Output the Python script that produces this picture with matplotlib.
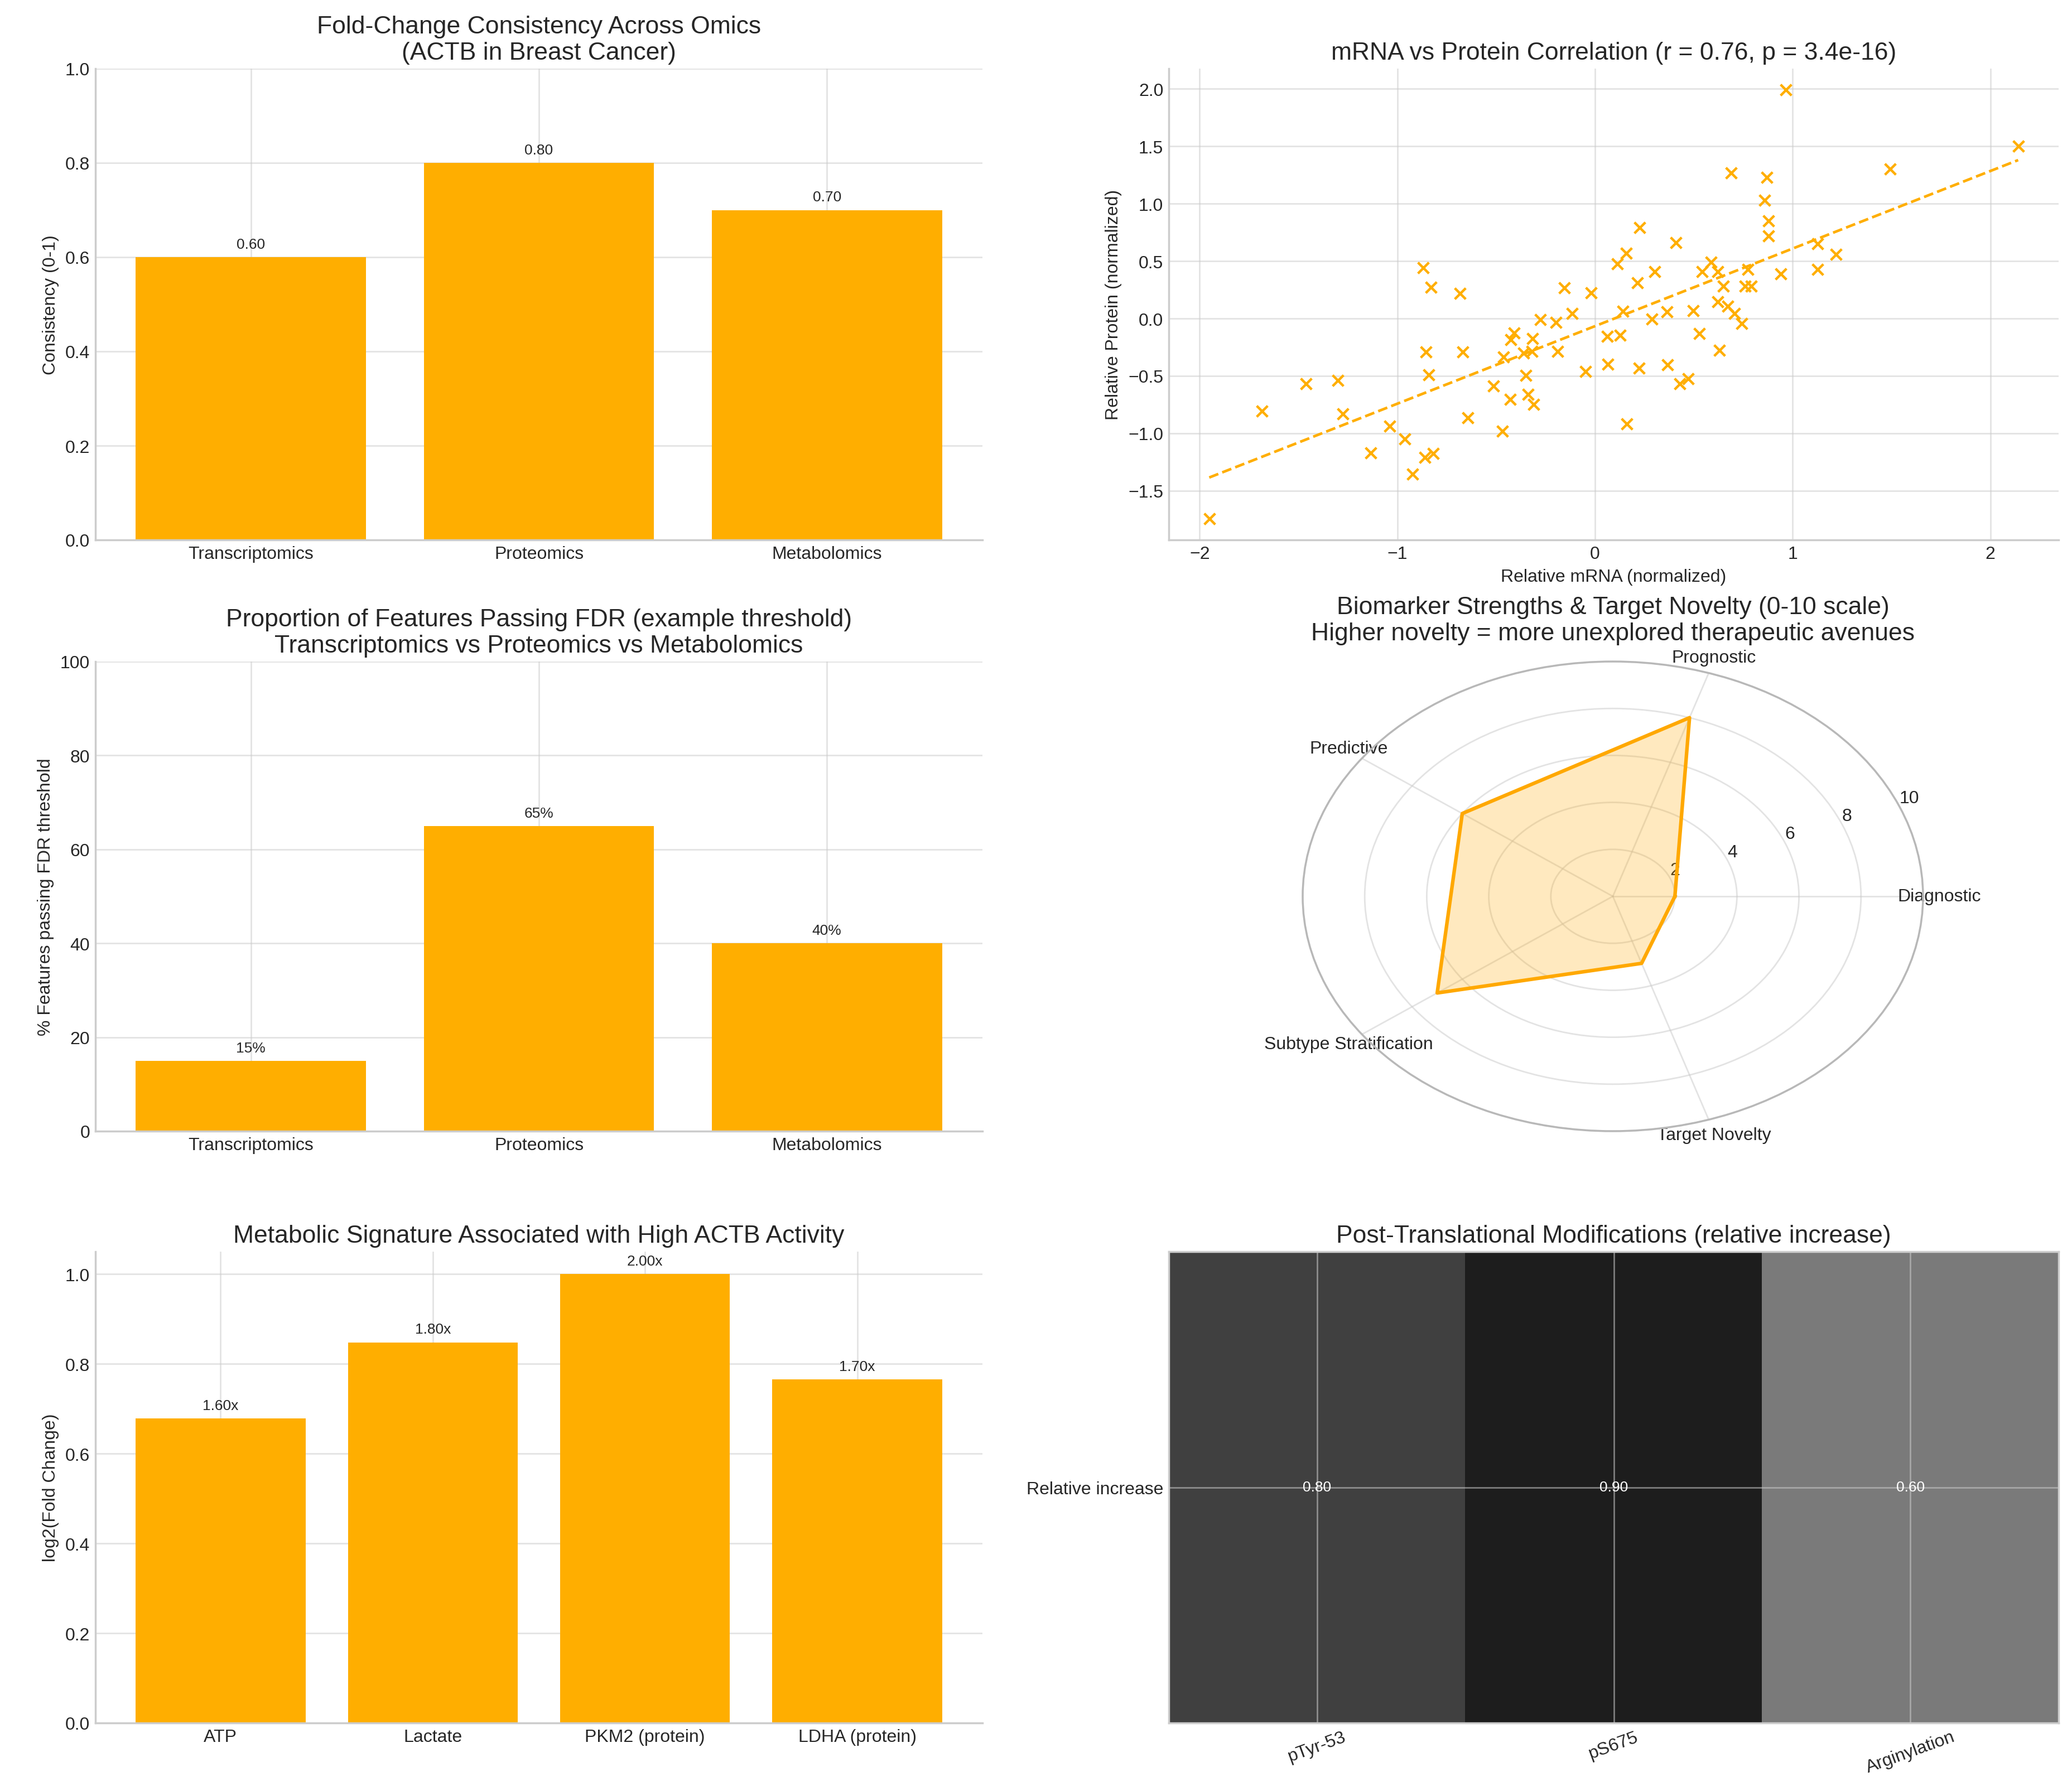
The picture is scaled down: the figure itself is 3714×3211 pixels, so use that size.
import numpy as np
import matplotlib
matplotlib.use("Agg")
import matplotlib.pyplot as plt

##########################################################################
# data
omics = ["Transcriptomics", "Proteomics", "Metabolomics"]
consistency = [0.60, 0.80, 0.70]
fdr_pass = [15, 65, 40]

metabolites = ["ATP", "Lactate", "PKM2 (protein)", "LDHA (protein)"]
fold_change = [1.6, 1.8, 2.0, 1.7]

radar_cats = ["Diagnostic", "Prognostic", "Predictive", "Subtype Stratification", "Target Novelty"]
radar_vals = [2, 8, 6, 7, 3]

ptm_sites = ["pTyr-53", "pS675", "Arginylation"]
ptm_increase = [0.80, 0.90, 0.60]

mrna = [0.966, 2.141, 1.494, 0.688, 0.870, 0.858, 0.877, 0.877, 0.227, 0.410,
        0.157, 0.112, 1.126, 1.219, 1.126, 0.941, 0.586, 0.541, 0.621, 0.301,
        0.774, 0.650, 0.758, 0.790, 0.214, -0.870, -0.829, -0.682, -0.154, -0.019,
        -0.115, -0.278, -0.198, 0.141, 0.365, 0.496, 0.621, 0.672, 0.707, 0.742,
        0.288, -0.410, -0.426, -0.317, 0.061, 0.128, 0.528, -0.854, -0.669, -0.362,
        -0.320, -0.189, -0.464, 0.630, -0.842, -0.349, -0.048, 0.064, 0.224, 0.368,
        0.470, 0.429, -1.462, -1.302, -0.515, -0.429, -0.339, -0.310, -1.686, -1.277,
        -0.643, -0.470, 0.160, -1.040, -0.963, -1.136, -0.861, -0.819, -0.922, -1.952]
protein = [1.99, 1.50, 1.30, 1.27, 1.23, 1.03, 0.85, 0.72, 0.79, 0.66,
           0.57, 0.475, 0.65, 0.56, 0.43, 0.39, 0.49, 0.41, 0.41, 0.41,
           0.43, 0.28, 0.28, 0.28, 0.31, 0.44, 0.27, 0.22, 0.265, 0.226,
           0.046, -0.01, -0.034, 0.064, 0.058, 0.07, 0.144, 0.108, 0.046, -0.043,
           -0.007, -0.125, -0.184, -0.176, -0.155, -0.146, -0.131, -0.291, -0.291, -0.30,
           -0.288, -0.288, -0.335, -0.279, -0.489, -0.495, -0.459, -0.397, -0.433, -0.403,
           -0.524, -0.569, -0.566, -0.539, -0.589, -0.702, -0.663, -0.746, -0.805, -0.832,
           -0.867, -0.983, -0.92, -0.938, -1.051, -1.172, -1.21, -1.175, -1.355, -1.742]
r_value = 0.76
p_value = 3.4e-16

##########################################################################
# look
bar_color = "#FFAE00"
radar_color = "#FFA800"
ink = "#262626"
grid_col = "#cccccc"

plt.rcParams.update({
    "font.family": ["Liberation Sans", "DejaVu Sans"],
    "font.size": 11.5,
    "axes.titlesize": 16,
    "axes.labelsize": 11.5,
    "axes.titlecolor": ink,
    "axes.labelcolor": ink,
    "axes.edgecolor": grid_col,
    "axes.linewidth": 1.25,
    "axes.grid": True,
    "axes.axisbelow": True,
    "grid.color": grid_col,
    "grid.alpha": 0.55,
    "grid.linewidth": 1.0,
    "xtick.color": ink,
    "ytick.color": ink,
    "xtick.labelsize": 11.5,
    "ytick.labelsize": 11.5,
    "xtick.major.size": 0,
    "ytick.major.size": 0,
})

W, H = 3714, 3212
fig = plt.figure(figsize=(W / 200, H / 200), dpi=200)


def rect(x0, x1, y0, y1):
    # pixel box (top-left origin) -> figure fraction
    return [x0 / W, 1 - y1 / H, (x1 - x0) / W, (y1 - y0) / H]


col1 = (171, 1761)
col2 = (2095, 3690)
row1 = (124, 969)
row2 = (1187, 2029)
row3 = (2245, 3090)


def despine(ax):
    ax.spines["top"].set_visible(False)
    ax.spines["right"].set_visible(False)


def label_bars(ax, bars, texts):
    for b, t in zip(bars, texts):
        ax.annotate(t, (b.get_x() + b.get_width() / 2, b.get_height()),
                    xytext=(0, 4), textcoords="offset points",
                    ha="center", va="bottom", fontsize=9.5, color=ink)


##########################################################################
# fold-change consistency
ax1 = fig.add_axes(rect(*col1, *row1))
bars = ax1.bar(omics, consistency, color=bar_color)
label_bars(ax1, bars, [f"{v:.2f}" for v in consistency])
ax1.set_ylim(0, 1)
ax1.set_ylabel("Consistency (0-1)")
ax1.set_title("Fold-Change Consistency Across Omics\n(ACTB in Breast Cancer)")
despine(ax1)

##########################################################################
# mRNA vs protein scatter
ax2 = fig.add_axes(rect(*col2, *row1))
ax2.scatter(mrna, protein, marker="x", s=50, color=bar_color, linewidths=1.6)
slope, icept = np.polyfit(mrna, protein, 1)
xs = np.array([min(mrna), max(mrna)])
ax2.plot(xs, slope * xs + icept, "--", color=bar_color, lw=1.7)
ax2.set_xlabel("Relative mRNA (normalized)")
ax2.set_ylabel("Relative Protein (normalized)")
ax2.set_title(f"mRNA vs Protein Correlation (r = {r_value:.2f}, p = {p_value:.1e})")
despine(ax2)

##########################################################################
# FDR pass proportion
ax3 = fig.add_axes(rect(*col1, *row2))
bars = ax3.bar(omics, fdr_pass, color=bar_color)
label_bars(ax3, bars, [f"{v}%" for v in fdr_pass])
ax3.set_ylim(0, 100)
ax3.set_ylabel("% Features passing FDR threshold")
ax3.set_title("Proportion of Features Passing FDR (example threshold)\n"
              "Transcriptomics vs Proteomics vs Metabolomics")
despine(ax3)

##########################################################################
# radar
ax4 = fig.add_axes(rect(2335, 3447, *row2), projection="polar")
ax4.set_aspect("auto")
angles = np.linspace(0, 2 * np.pi, len(radar_cats), endpoint=False)
ang_c = np.append(angles, angles[0])
val_c = np.append(radar_vals, radar_vals[0])
ax4.plot(ang_c, val_c, color=radar_color, lw=2.3)
ax4.fill(ang_c, val_c, color=radar_color, alpha=0.25)
ax4.set_xticks(angles)
ax4.set_xticklabels(radar_cats, fontsize=11.5)
ax4.set_ylim(0, 10)
ax4.set_yticks([2, 4, 6, 8, 10])
ax4.tick_params(axis="y", labelsize=11.5)
ax4.spines["polar"].set_color("#b8b8b8")
ax4.set_title("Biomarker Strengths & Target Novelty (0-10 scale)\n"
              "Higher novelty = more unexplored therapeutic avenues")

##########################################################################
# metabolic signature
ax5 = fig.add_axes(rect(*col1, *row3))
bars = ax5.bar(metabolites, np.log2(fold_change), color=bar_color)
label_bars(ax5, bars, [f"{v:.2f}x" for v in fold_change])
ax5.set_ylabel("log2(Fold Change)")
ax5.set_title("Metabolic Signature Associated with High ACTB Activity")
despine(ax5)

##########################################################################
# PTM heatmap
ax6 = fig.add_axes(rect(*col2, *row3))
ax6.imshow([ptm_increase], cmap="Greys", vmin=0, vmax=1, aspect="auto")
for j, v in enumerate(ptm_increase):
    ax6.text(j, 0, f"{v:.2f}", ha="center", va="center", color="white", fontsize=9.5)
ax6.set_xticks(range(len(ptm_sites)))
ax6.set_xticklabels(ptm_sites, rotation=20)
ax6.set_yticks([0])
ax6.set_yticklabels(["Relative increase"])
ax6.set_title("Post-Translational Modifications (relative increase)")

fig.savefig("out.png", dpi=200)
